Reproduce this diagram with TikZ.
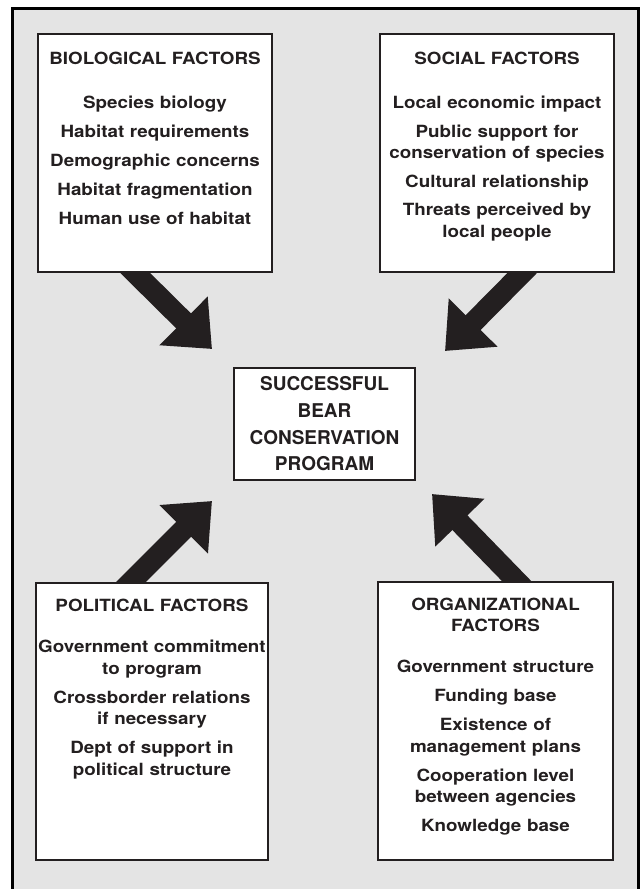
\documentclass[tikz,border=0pt]{standalone}
\usepackage{fontspec}
\setmainfont{TeX Gyre Heros}
\newfontfamily\factorfont{TeX Gyre Heros}[FakeStretch=1.12]
\usetikzlibrary{arrows.meta, backgrounds}

\definecolor{paneground}{HTML}{E4E4E4}
\definecolor{ink}{HTML}{231F20}

\tikzset{
	factorbox/.style={draw=ink, line width=2pt, fill=white, inner sep=0pt},
	factortext/.style={anchor=north, inner sep=0pt, text width=230pt, align=center, text=ink,
		font=\fontsize{16.8}{21.5}\factorfont\bfseries},
	goalbox/.style={draw=ink, line width=2pt, fill=white, inner sep=0pt, align=center, text=ink,
		minimum width=181pt, minimum height=112pt, font=\fontsize{19}{26.7}\selectfont\bfseries},
	bigarrow/.style={ink, line width=21pt, -{Triangle[width=66pt, length=40pt]}},
}

\begin{document}
\begin{tikzpicture}[x=1pt, y=-1pt]
	\useasboundingbox (0,0) rectangle (640,889);
	
	% factor boxes
	\node[factorbox, minimum width=234pt, minimum height=238pt] (bio) at (155,153) {};
	\node[factorbox, minimum width=234pt, minimum height=238pt] (soc) at (497,153) {};
	\node[factorbox, minimum width=232pt, minimum height=277pt] (pol) at (152,721.5) {};
	\node[factorbox, minimum width=235pt, minimum height=278pt] (org) at (495.5,721) {};
	
	\node[factortext] (biotext) at ([shift={(0,19)}]bio.north) {BIOLOGICAL FACTORS\\[22.5pt]
		Species biology\\[7.5pt] Habitat requirements\\[7.5pt] Demographic concerns\\[7.5pt]
		Habitat fragmentation\\[7.5pt] Human use of habitat};
	\node[factortext] (soctext) at ([shift={(0,19)}]soc.north) {SOCIAL FACTORS\\[22.5pt]
		Local economic impact\\[7pt] Public support for\\ conservation of species\\[7pt]
		Cultural relationship\\[7pt] Threats perceived by\\ local people};
	\node[factortext] (poltext) at ([shift={(0,17)}]pol.north) {POLITICAL FACTORS\\[19.5pt]
		Government commitment\\ to program\\[7.5pt] Crossborder relations\\ if necessary\\[7.5pt]
		Dept of support in\\ political structure};
	\node[factortext] (orgtext) at ([shift={(0,16.5)}]org.north) {ORGANIZATIONAL\\ FACTORS\\[19.5pt]
		Government structure\\[7.5pt] Funding base\\[7.5pt] Existence of\\ management plans\\[7.5pt]
		Cooperation level\\ between agencies\\[7.5pt] Knowledge base};
	
	% goal in the middle
	\node[goalbox] (goal) at (324.5,424) {SUCCESSFUL\\ BEAR\\ CONSERVATION\\ PROGRAM};
	
	\coordinate (tipbio) at (212,349);
	\coordinate (tipsoc) at (445,351);
	\coordinate (tippol) at (212,501);
	\coordinate (tiporg) at (432,494);
	
	\begin{scope}[on background layer]
		\fill[paneground] (12,8) rectangle (638,889);
		\draw[line width=3pt] (12,889) -- (12,8) -- (638,8) -- (638,889);
		
		\draw[bigarrow] ([shift={(-40,-20)}]bio.south) -- (tipbio);
		\draw[bigarrow] ([shift={(45,-20)}]soc.south) -- (tipsoc);
		\draw[bigarrow] ([shift={(-41,20)}]pol.north) -- (tippol);
		\draw[bigarrow] ([shift={(40.5,20)}]org.north) -- (tiporg);
	\end{scope}
\end{tikzpicture}
\end{document}
